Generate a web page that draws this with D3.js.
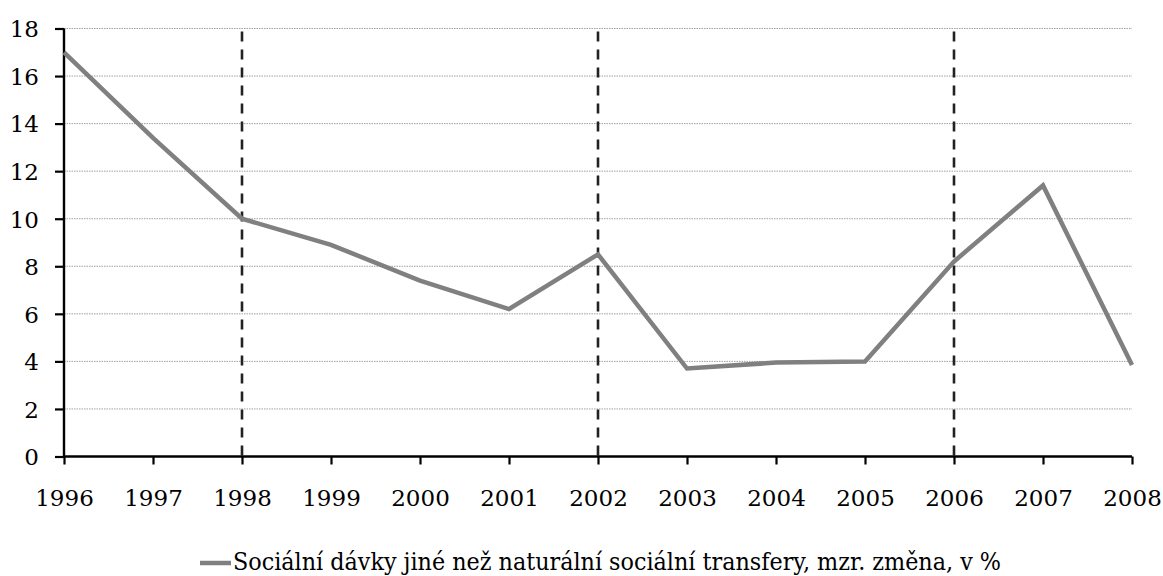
<!DOCTYPE html>
<html><head><meta charset="utf-8">
<script src="https://cdn.jsdelivr.net/npm/d3@7"></script>
<style>body{margin:0;background:#fff;overflow:hidden;} svg{display:block;}</style>
</head><body>
<svg id="c" width="1163" height="576"></svg>
<script>
const years = [1996,1997,1998,1999,2000,2001,2002,2003,2004,2005,2006,2007,2008];
const values = [17.0,13.4,10.0,8.9,7.4,6.2,8.5,3.7,3.95,4.0,8.2,11.4,3.85];
const yTicks = [0,2,4,6,8,10,12,14,16,18];
const markerYears = [1998,2002,2006];
const seriesName = "Sociální dávky jiné než naturální sociální transfery, mzr. změna, v %";

const svg = d3.select("#c");
const x = d3.scaleLinear().domain([1996,2008]).range([64,1132]);
const y = d3.scaleLinear().domain([0,18]).range([456.5,28.5]);
const font = "DejaVu Serif";

// gridlines
svg.append("g").selectAll("line").data(yTicks.filter(d=>d>0)).join("line")
  .attr("x1",x(1996)).attr("x2",x(2008))
  .attr("y1",d=>y(d)).attr("y2",d=>y(d))
  .attr("stroke","#a0a0a0").attr("stroke-width",1).attr("stroke-dasharray","1.5,1");

// dashed verticals
svg.append("g").selectAll("line").data(markerYears).join("line")
  .attr("x1",d=>x(d)).attr("x2",d=>x(d))
  .attr("y1",y(18)+3).attr("y2",y(0))
  .attr("stroke","#222").attr("stroke-width",2.6).attr("stroke-dasharray","10,8");

// axes
const yAxis = d3.axisLeft(y).tickValues(yTicks).tickSize(9).tickPadding(16).tickFormat(d3.format("d"));
const gy = svg.append("g").attr("transform",`translate(${x(1996)},0)`).call(yAxis);
const xAxis = d3.axisBottom(x).tickValues(years).tickSize(8).tickPadding(25).tickFormat(d3.format("d"));
const gx = svg.append("g").attr("transform",`translate(0,${y(0)})`).call(xAxis);
[gy,gx].forEach(g=>{
  g.select(".domain").attr("stroke","#000").attr("stroke-width",2.4);
  g.selectAll(".tick line").attr("stroke","#000").attr("stroke-width",2.2);
  g.selectAll("text").attr("font-family",font).attr("font-size",23).attr("fill","#000");
});
gy.select(".domain").attr("d",`M0,${y(18)}V${y(0)}`);
gx.select(".domain").attr("d",`M${x(1996)},0H${x(2008)}`);
gy.selectAll(".tick text").attr("dy","0.36em");

// line
svg.append("path").datum(years.map((d,i)=>[d,values[i]]))
  .attr("fill","none").attr("stroke","#808080").attr("stroke-width",4.5)
  .attr("stroke-linejoin","miter")
  .attr("d",d3.line().x(d=>x(d[0])).y(d=>y(d[1])));

// legend
svg.append("line").attr("x1",200).attr("x2",231).attr("y1",563).attr("y2",563)
  .attr("stroke","#808080").attr("stroke-width",4.5);
svg.append("text").attr("x",233).attr("y",570)
  .attr("font-family",font).attr("font-size",25).attr("fill","#000")
  .attr("textLength",768).attr("lengthAdjust","spacingAndGlyphs")
  .text(seriesName);
</script>
</body></html>
